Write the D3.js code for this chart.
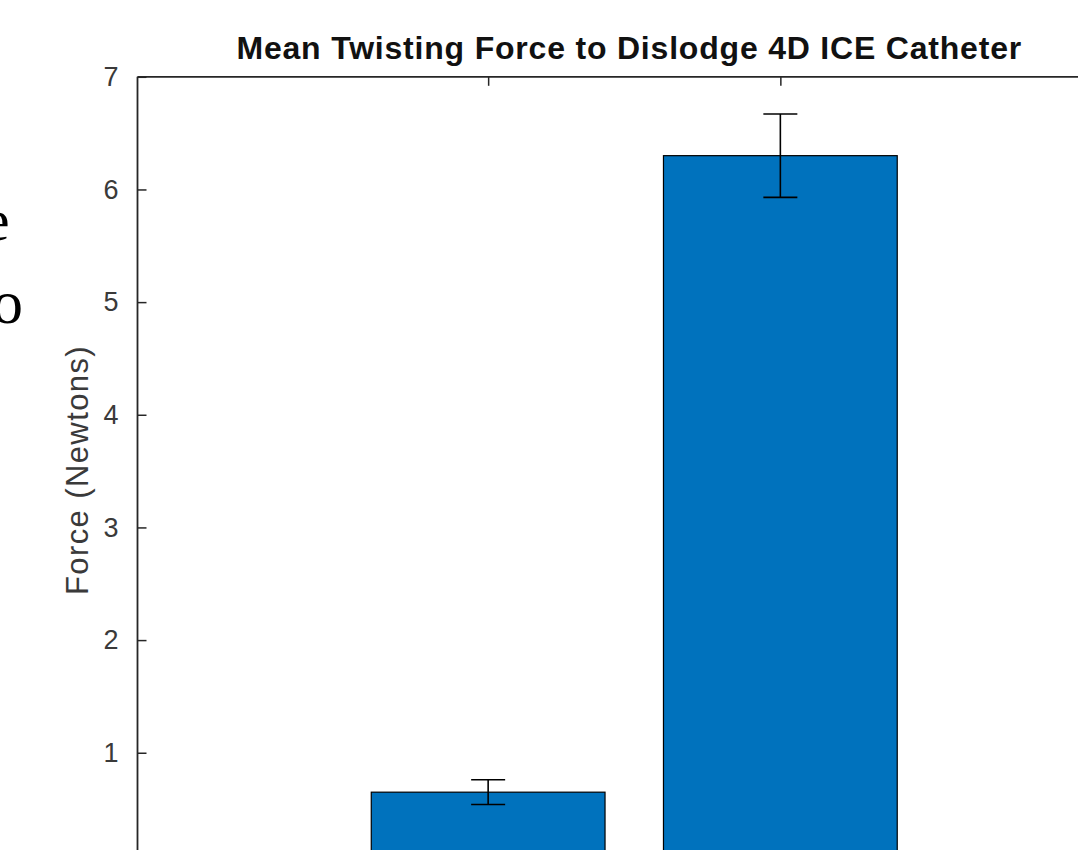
<!DOCTYPE html>
<html>
<head>
<meta charset="utf-8">
<script src="https://cdn.jsdelivr.net/npm/d3@7"></script>
<style>
  body { margin: 0; background: #fff; }
  svg { display: block; }
</style>
</head>
<body>
<script>
// data
const categories = [1, 2];
const means = [0.65, 6.30];
const errors = [0.11, 0.37];
const yTicks = [1, 2, 3, 4, 5, 6, 7];
const titleText = "Mean Twisting Force to Dislodge 4D ICE Catheter";
const yLabelText = "Force (Newtons)";

const width = 1078;
const height = 850;
const axisColor = "#262626";

const svg = d3.select("body")
  .append("svg")
  .attr("width", width)
  .attr("height", height);

// bits of the surrounding document, cut off at the left edge (as in the crop)
svg.append("text")
  .attr("x", -17).attr("y", 240)
  .style("font-family", "'Liberation Serif', serif")
  .style("font-size", "60px")
  .text("e");
svg.append("text")
  .attr("x", -8).attr("y", 323)
  .style("font-family", "'Liberation Serif', serif")
  .style("font-size", "62px")
  .text("o");

// axes box runs past the right and bottom edges of the crop
const xScale = d3.scaleLinear()
  .domain([-0.2, 3.2])
  .range([137.5, 1131]);

const yScale = d3.scaleLinear()
  .domain([0, 7])
  .range([865.4, 76.8]);

const barWidth = xScale(0.8) - xScale(0);

svg.selectAll("rect.bar")
  .data(categories)
  .enter()
  .append("rect")
  .attr("class", "bar")
  .attr("x", (d) => xScale(d) - barWidth / 2)
  .attr("y", (d, i) => yScale(means[i]))
  .attr("width", barWidth)
  .attr("height", (d, i) => yScale(0) - yScale(means[i]))
  .attr("fill", "#0072BD")
  .attr("stroke", "#000")
  .attr("stroke-width", 1.2);

// error bars
const capHalf = 17;
const err = svg.append("g")
  .attr("stroke", "#000")
  .attr("stroke-width", 1.6);

categories.forEach((c, i) => {
  const cx = xScale(c);
  const top = yScale(means[i] + errors[i]);
  const bot = yScale(means[i] - errors[i]);
  err.append("line").attr("x1", cx).attr("x2", cx).attr("y1", top).attr("y2", bot);
  err.append("line").attr("x1", cx - capHalf).attr("x2", cx + capHalf).attr("y1", top).attr("y2", top);
  err.append("line").attr("x1", cx - capHalf).attr("x2", cx + capHalf).attr("y1", bot).attr("y2", bot);
});

// left axis, ticks inward
const yAxis = d3.axisLeft(yScale)
  .tickValues(yTicks)
  .tickSize(-9)
  .tickPadding(19)
  .tickFormat(d3.format("d"));

const gy = svg.append("g")
  .attr("transform", "translate(" + xScale(-0.2) + ",0)")
  .call(yAxis);
gy.select(".domain").remove();
gy.selectAll("line").attr("stroke", axisColor).attr("stroke-width", 1.5);
gy.selectAll("text")
  .style("font-family", "'Liberation Sans', Arial, sans-serif")
  .style("font-size", "27px")
  .attr("fill", "#3a3a3a");

// top axis ticks at the bars, pointing down
const xAxisTop = d3.axisTop(xScale)
  .tickValues(categories)
  .tickSize(-9)
  .tickFormat("");

const gx = svg.append("g")
  .attr("transform", "translate(0," + yScale(7) + ")")
  .call(xAxisTop);
gx.select(".domain").remove();
gx.selectAll("line").attr("stroke", axisColor).attr("stroke-width", 1.5);

// box lines
svg.append("line")
  .attr("x1", xScale(-0.2)).attr("x2", xScale(-0.2))
  .attr("y1", yScale(7)).attr("y2", yScale(0))
  .attr("stroke", axisColor).attr("stroke-width", 1.8);
svg.append("line")
  .attr("x1", xScale(-0.2)).attr("x2", xScale(3.2))
  .attr("y1", yScale(7)).attr("y2", yScale(7))
  .attr("stroke", axisColor).attr("stroke-width", 1.8);

// title
svg.append("text")
  .attr("x", (xScale(-0.2) + xScale(3.2)) / 2 - 5)
  .attr("y", 59)
  .attr("text-anchor", "middle")
  .style("font-family", "'Liberation Sans', Arial, sans-serif")
  .style("font-size", "32px")
  .style("font-weight", "bold")
  .style("letter-spacing", "0.8px")
  .attr("fill", "#111")
  .text(titleText);

// y label
svg.append("text")
  .attr("transform", "translate(88," + 470 + ") rotate(-90)")
  .attr("text-anchor", "middle")
  .style("font-family", "'Liberation Sans', Arial, sans-serif")
  .style("font-size", "31px")
  .style("letter-spacing", "1.4px")
  .attr("fill", "#3a3a3a")
  .text(yLabelText);
</script>
</body>
</html>
